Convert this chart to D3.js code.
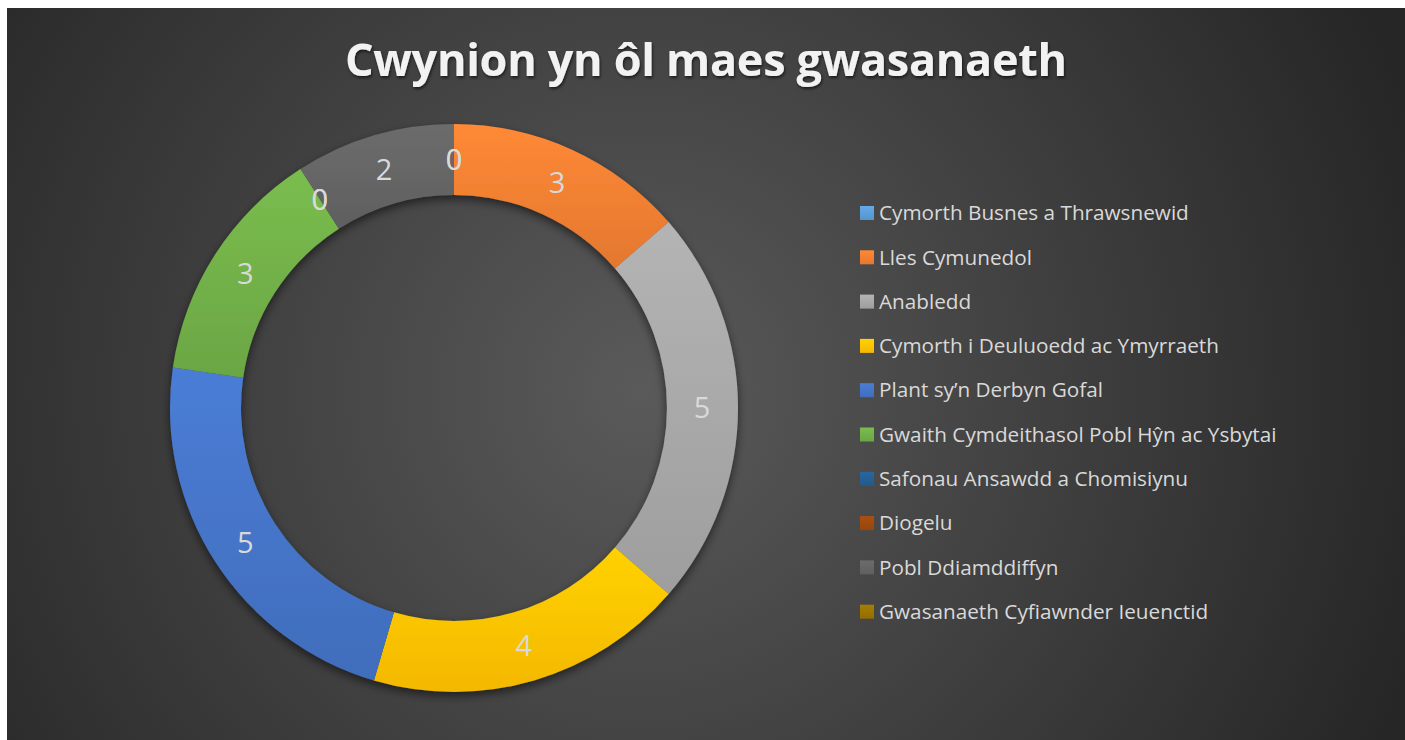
<!DOCTYPE html>
<html>
<head>
<meta charset="utf-8">
<script src="https://cdn.jsdelivr.net/npm/d3@7"></script>
<style>
  body { margin: 0; background: #fff; }
  svg text { font-family: "Open Sans", "Noto Sans", sans-serif; }
</style>
</head>
<body>
<svg id="chart" width="1405" height="740"></svg>
<script>
// service areas and number of complaints
var categories = ["Cymorth Busnes a Thrawsnewid", "Lles Cymunedol", "Anabledd",
  "Cymorth i Deuluoedd ac Ymyrraeth", "Plant sy\u2019n Derbyn Gofal",
  "Gwaith Cymdeithasol Pobl H\u0177n ac Ysbytai", "Safonau Ansawdd a Chomisiynu",
  "Diogelu", "Pobl Ddiamddiffyn", "Gwasanaeth Cyfiawnder Ieuenctid"];
var values = [0, 3, 5, 4, 5, 3, 0, 0, 2, 0];
var colours = ["#5B9BD5", "#ED7D31", "#A5A5A5", "#FFC000", "#4472C4",
  "#70AD47", "#255E91", "#9E480E", "#636363", "#997300"];
var title = "Cwynion yn \u00f4l maes gwasanaeth";

var svg = d3.select("#chart");
var defs = svg.append("defs");

// chart area box
var box = {x: 7, y: 8, w: 1398, h: 732};

var bg = defs.append("radialGradient").attr("id", "bg")
  .attr("gradientUnits", "userSpaceOnUse")
  .attr("cx", 640).attr("cy", 390).attr("r", 820);
bg.append("stop").attr("offset", "0").attr("stop-color", "#5a5a5a");
bg.append("stop").attr("offset", "1").attr("stop-color", "#262626");

svg.append("rect")
  .attr("x", box.x).attr("y", box.y)
  .attr("width", box.w).attr("height", box.h)
  .attr("fill", "url(#bg)");

// slice gradients, light at top like the office style
colours.forEach(function(c, i) {
  var g = defs.append("linearGradient").attr("id", "sl" + i)
    .attr("x1", 0).attr("y1", 0).attr("x2", 0).attr("y2", 1);
  g.append("stop").attr("offset", "0").attr("stop-color", d3.color(c).brighter(0.25));
  g.append("stop").attr("offset", "1").attr("stop-color", d3.color(c).darker(0.12));
});

var shadow = defs.append("filter").attr("id", "shadow")
  .attr("x", "-20%").attr("y", "-20%").attr("width", "140%").attr("height", "140%");
shadow.append("feDropShadow").attr("dx", 0).attr("dy", 4).attr("stdDeviation", 5)
  .attr("flood-color", "#000").attr("flood-opacity", 0.55);

var ts = defs.append("filter").attr("id", "tshadow");
ts.append("feDropShadow").attr("dx", 1).attr("dy", 2).attr("stdDeviation", 1.5)
  .attr("flood-color", "#000").attr("flood-opacity", 0.6);

// title
var titleText = svg.append("text")
  .attr("x", 706).attr("y", 76)
  .attr("text-anchor", "middle")
  .attr("font-size", 45).attr("font-weight", "bold")
  .attr("fill", "#F2F2F2")
  .attr("filter", "url(#tshadow)")
  .text(title);
var tw = titleText.node().getComputedTextLength();
var ls = (722 - tw) / (title.length - 1);
titleText.attr("letter-spacing", ls).attr("x", 706 + ls / 2);

// donut
var cx = 454, cy = 408, outerR = 284, innerR = 213;
var pie = d3.pie().sort(null).value(function(d) { return d; });
var arc = d3.arc().innerRadius(innerR).outerRadius(outerR);
var labelArc = d3.arc().innerRadius(248).outerRadius(248);
var arcs = pie(values);

var g = svg.append("g").attr("transform", "translate(" + cx + "," + cy + ")");
g.append("g").attr("filter", "url(#shadow)")
  .selectAll("path")
  .data(arcs)
  .join("path")
    .attr("d", arc)
    .attr("fill", function(d, i) { return "url(#sl" + i + ")"; });

g.selectAll("text.lbl")
  .data(arcs)
  .join("text")
    .attr("class", "lbl")
    .attr("transform", function(d) { return "translate(" + labelArc.centroid(d) + ")"; })
    .attr("text-anchor", "middle")
    .attr("dy", "0.36em")
    .attr("font-size", 29)
    .attr("fill", "#D9D9D9")
    .text(function(d) { return d.data; });

// legend
var leg = svg.append("g");
var rows = leg.selectAll("g")
  .data(categories)
  .join("g")
    .attr("transform", function(d, i) { return "translate(860," + (213 + i * 44.3) + ")"; });
rows.append("rect")
  .attr("x", 0).attr("y", -7).attr("width", 14).attr("height", 14)
  .attr("fill", function(d, i) { return "url(#sl" + i + ")"; });
var legText = rows.append("text")
  .attr("x", 19).attr("dy", "0.35em")
  .attr("font-size", 20)
  .attr("fill", "#D9D9D9")
  .text(function(d) { return d; });
var w0 = legText.nodes()[0].getComputedTextLength();
legText.attr("font-size", 20 * 310 / w0);
</script>
</body>
</html>
